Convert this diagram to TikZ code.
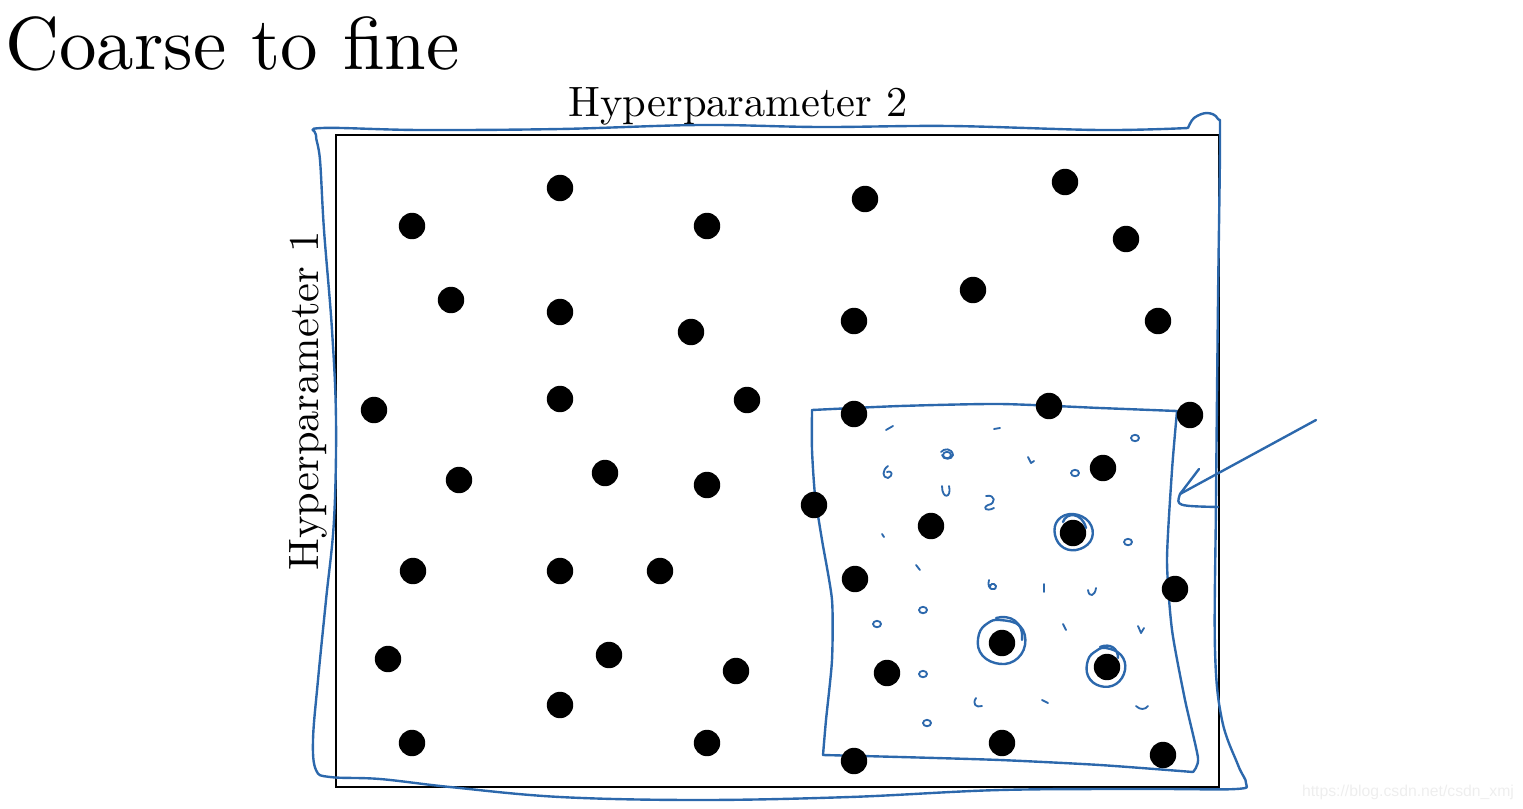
\documentclass[tikz,border=0pt]{standalone}
\usepackage{fontspec}
\newfontfamily\wmfont{Liberation Sans}
\definecolor{pen}{RGB}{44,104,172}
\definecolor{wm}{RGB}{238,238,238}
\begin{document}
\begin{tikzpicture}[x=0.025cm,y=-0.025cm,
  dot/.style={circle,fill=black,inner sep=0pt,minimum size=0.66cm},
  frame/.style={draw=black,line width=1.5pt},
  pen/.style={draw=pen,line width=1.7pt,line cap=round,line join=round},
  scr/.style={draw=pen,line width=1.3pt,line cap=round,line join=round}]
\useasboundingbox (0,0) rectangle (1523,808);
% title and axis labels
\node[anchor=base west,inner sep=0pt,font=\fontsize{10}{12}\selectfont] (title) at (5,69) {\scalebox{5.33}{Coarse to fine}};
\node[anchor=base,inner sep=0pt,font=\fontsize{10}{12}\selectfont] (hp2) at (738,116) {\scalebox{3.02}{Hyperparameter 2}};
\node[anchor=base,rotate=90,inner sep=0pt,font=\fontsize{10}{12}\selectfont] (hp1) at (318,401) {\scalebox{3.02}{Hyperparameter 1}};
% black frame
\draw[frame] (336,135) rectangle (1219,787);
% outer blue loop
\draw[pen] plot[smooth,tension=0.6] coordinates {
 (1188,128) (1194,118) (1207,113) (1218,119) (1220,140) (1218,300) (1216,500)
 (1215,650) (1222,720) (1238,765) (1246,783) (1236,789) (1150,789) (1000,790)
 (850,797) (700,800) (560,797) (450,787) (380,779) (330,777) (316,770) (313,740)
 (318,680) (326,600) (334,520) (336,420) (332,330) (324,230) (320,160) (316,135) (322,128)
 (420,130) (560,129) (700,125) (820,127) (950,126) (1100,130) (1188,128)};
% inner blue square
\draw[pen] plot[smooth,tension=0.4] coordinates {(812,410) (900,406) (1000,404) (1100,408) (1177,411)};
\draw[pen] plot[smooth,tension=0.4] coordinates {(1177,411) (1172,470) (1167,560) (1172,630) (1185,700) (1198,758) (1193,772)};
\draw[pen] plot[smooth,tension=0.4] coordinates {(1193,772) (1100,765) (1000,760) (900,757) (823,755)};
\draw[pen] plot[smooth,tension=0.4] coordinates {(823,755) (826,720) (832,660) (832,600) (822,540) (815,495) (812,450) (812,410)};
% arrow
\coordinate (atail) at (1316,420);
\coordinate (atip) at (1180,494);
\draw[pen] (atail) -- (atip);
\draw[pen] (1199,469) -- (atip) .. controls (1176,506) .. (1218,507);
% dots
\foreach \x/\y [count=\i] in {
 560/188, 412/226, 707/226, 865/199, 1065/182, 1126/239,
 451/300, 560/312, 691/332, 854/321, 973/290, 1158/321,
 374/410, 560/399, 747/400, 854/414, 1049/406, 1190/415,
 459/480, 605/473, 707/485, 814/505, 1103/468, 931/526, 1073/533,
 413/571, 560/571, 660/571, 855/579, 1175/589,
 388/659, 609/655, 736/671, 887/673, 1002/643, 1107/667,
 560/705, 412/743, 707/743, 854/761, 1002/743, 1163/755}
 \node[dot] (d\i) at (\x,\y) {};
% hand-drawn circles around best points
\draw[pen] plot[smooth cycle,tension=0.7] coordinates {(1073,514) (1089,522) (1092,538) (1080,549) (1064,548) (1055,535) (1058,520)};
\draw[pen] (1063,522) .. controls (1066,512) and (1082,512) .. (1086,528);
\draw[pen] plot[smooth cycle,tension=0.7] coordinates {(1000,620) (1020,626) (1025,645) (1014,661) (995,663) (980,652) (979,634) (988,623)};
\draw[pen] (996,618) .. controls (1010,614) and (1024,622) .. (1022,640);
\draw[pen] plot[smooth cycle,tension=0.7] coordinates {(1106,648) (1121,655) (1125,670) (1116,684) (1100,686) (1088,676) (1088,660) (1096,651)};
\draw[pen] (1100,647) .. controls (1110,643) and (1118,648) .. (1118,658);
% small blue scribbles (fine search points)
\foreach \x/\y in {1135/438, 947/455, 1075/473, 1128/542, 923/610, 877/624, 923/674, 927/723}
 \draw[scr] (\x,\y) ellipse [x radius=0.1cm, y radius=0.08cm];
\draw[scr] (886,430) -- (893,426);
\draw[scr] (994,429) -- (1000,428);
\draw[scr] (941,452) .. controls (944,448) and (952,448) .. (953,455) .. controls (952,460) and (943,460) .. (942,455);
\draw[scr] (888,466) .. controls (882,470) and (882,478) .. (888,478) .. controls (893,476) and (893,470) .. (887,472);
\draw[scr] (1028,457) -- (1031,463) -- (1034,461);
\draw[scr] (942,486) .. controls (942,500) and (952,498) .. (949,486);
\draw[scr] (986,496) .. controls (996,494) and (996,504) .. (988,505) .. controls (982,508) and (986,512) .. (994,508);
\draw[scr] (882,534) -- (884,537);
\draw[scr] (916,565) -- (920,570);
\draw[scr] (989,580) .. controls (986,590) and (996,592) .. (996,586) .. controls (994,582) and (989,584) .. (990,588);
\draw[scr] (1044,584) -- (1044,592);
\draw[scr] (1088,590) .. controls (1089,598) and (1095,596) .. (1096,588);
\draw[scr] (1063,624) -- (1066,630);
\draw[scr] (1138,626) -- (1141,633) -- (1144,628);
\draw[scr] (976,698) .. controls (972,704) and (976,708) .. (982,706);
\draw[scr] (1042,700) -- (1048,703);
\draw[scr] (1136,706) .. controls (1140,710) and (1145,710) .. (1148,706);
% watermark
\node[anchor=base,inner sep=0pt,text=wm,font=\wmfont\fontsize{11.2}{13}\selectfont] (wmark) at (1408,796) {https://blog.csdn.net/csdn\_xmj};
\end{tikzpicture}
\end{document}
